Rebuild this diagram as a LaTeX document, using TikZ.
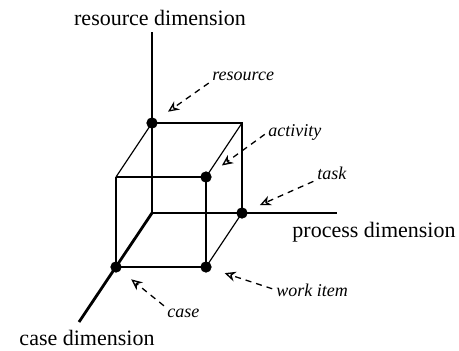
\documentclass[tikz,border=0pt]{standalone}
\usepackage{fontspec}
\setmainfont{Liberation Serif}
\usetikzlibrary{arrows.meta,positioning,calc}
\tikzset{
  axisline/.style={line width=1.4pt},
  cubeedge/.style={line width=0.6pt},
  dotn/.style={draw, circle, fill=black, minimum size=5.2pt, inner sep=0pt},
  pointer/.style={-{Stealth[open,length=5.5pt,width=5pt]}, dash pattern=on 3pt off 2.5pt, line width=0.65pt, shorten >=7pt, shorten <=2pt},
  dimlabel/.style={inner sep=0pt, font=\fontsize{11}{13}\selectfont},
  itemlabel/.style={inner sep=0pt, anchor=west, font=\fontsize{9}{11}\selectfont\itshape},
}

\begin{document}
\begin{tikzpicture}[x=0.5pt, y=-0.5pt]
  \useasboundingbox (0,0) rectangle (459,350);
  % corners of the cube
  \coordinate (O) at (152,213);
  \coordinate (R) at (152,123);
  \coordinate (RP) at (242,123);
  \coordinate (P) at (242,213);
  \coordinate (C) at (116,267);
  \coordinate (CP) at (206,267);
  \coordinate (CR) at (116,177);
  \coordinate (CRP) at (206,177);
  % ends of the axes
  \coordinate (resEnd) at (152,32);
  \coordinate (procEnd) at (337,213);
  \coordinate (caseEnd) at (79,322);
  \draw[cubeedge] (R) -- (RP) -- (P);
  \draw[cubeedge] (CR) -- (CRP) -- (CP) -- (C) -- (CR);
  \draw[cubeedge] (R) -- (CR);
  \draw[cubeedge] (RP) -- (CRP);
  \draw[cubeedge] (P) -- (CP);
  \draw[axisline] (O) -- (resEnd);
  \draw[axisline] (O) -- (procEnd);
  \draw[axisline] (O) -- (caseEnd);
  \node[dotn] (resdot) at (R) {};
  \node[dotn] (actdot) at (CRP) {};
  \node[dotn] (taskdot) at (P) {};
  \node[dotn] (casedot) at (C) {};
  \node[dotn] (workdot) at (CP) {};
  % axis names
  \node[dimlabel] (resdim) at (160,18) {resource dimension};
  \node[dimlabel] (procdim) at (374,232) {process dimension};
  \node[dimlabel] (casedim) at (87,338) {case dimension};
  % item labels
  \node[itemlabel] (reslbl) at (212,76) {resource};
  \node[itemlabel] (actlbl) at (268,132) {activity};
  \node[itemlabel] (tasklbl) at (317,173) {task};
  \node[itemlabel] (worklbl) at (276,290) {work item};
  \node[itemlabel] (caselbl) at (167,313) {case};
  \draw[pointer] (reslbl.south west) -- (resdot);
  \draw[pointer] (actlbl.west) -- (actdot);
  \draw[pointer] (tasklbl.south west) -- (taskdot);
  \draw[pointer] (worklbl.west) -- (workdot);
  \draw[pointer] (caselbl.north west) -- (casedot);
\end{tikzpicture}
\end{document}
